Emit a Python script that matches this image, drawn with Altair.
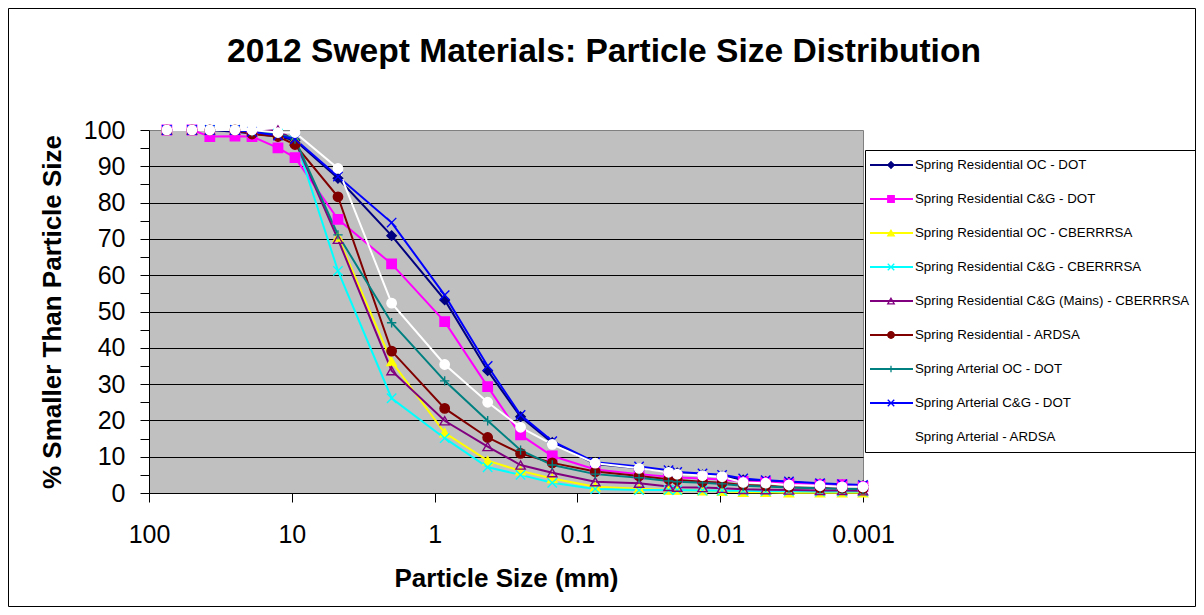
import altair as alt
import pandas as pd

# ---- data ----
particle_size_mm = [75, 50, 37.5, 25, 19, 12.5, 9.5, 4.75, 2.0, 0.85, 0.425, 0.25, 0.15,
                    0.075, 0.037, 0.023, 0.020, 0.0133, 0.0097, 0.0069, 0.0048, 0.0033,
                    0.0020, 0.0014, 0.001]

series_names = [
    "Spring Residential OC - DOT",
    "Spring Residential C&G - DOT",
    "Spring Residential OC - CBERRRSA",
    "Spring Residential C&G - CBERRRSA",
    "Spring Residential C&G (Mains) - CBERRRSA",
    "Spring Residential - ARDSA",
    "Spring Arterial OC - DOT",
    "Spring Arterial C&G - DOT",
    "Spring Arterial - ARDSA",
]

res_oc_dot = [100, 100, 100, 99.5, 99, 98.2, 97.2, 86.7, 70.9, 53.2, 33.7, 21.0, 13.9,
              8.0, 6.8, 6.0, 5.5, 5.0, 4.6, 3.6, 3.2, 3.0, 2.5, 2.2, 2.0]
res_cg_dot = [100, 100, 98.2, 98.3, 98.2, 95.1, 92.4, 75.4, 63.1, 47.2, 29.3, 16.0, 10.2,
              6.5, 5.2, 4.5, 4.3, 4.0, 3.7, 3.2, 3.0, 2.6, 2.4, 2.3, 1.8]
res_oc_cb = [100, 100, 100, 100, 99.5, 99, 97.5, 70.5, 36.2, 16.6, 8.9, 6.1, 4.0,
             1.7, 1.2, 0.8, 0.8, 0.6, 0.5, 0.2, 0.2, 0.1, 0.1, 0.1, 0.1]
res_cg_cb = [100, 100, 100, 100, 99.5, 99, 97.8, 61.2, 26.1, 15.1, 7.1, 5.0, 2.8,
             1.1, 0.8, 0.8, 0.8, 0.7, 0.6, 0.6, 0.5, 0.5, 0.4, 0.4, 0.4]
res_cg_mains_cb = [100, 100, 100, 100, 99.5, 100, 97, 69.9, 33.7, 19.9, 12.8, 7.7, 5.6,
                   3.1, 2.7, 1.8, 1.6, 1.5, 1.3, 1.0, 0.9, 0.8, 0.7, 0.7, 0.6]
res_ardsa = [100, 100, 100, 100, 98.9, 98.2, 96.0, 81.6, 39.1, 23.3, 15.3, 10.9, 8.3,
             5.9, 4.7, 3.8, 3.6, 3.1, 2.8, 2.2, 2.0, 1.6, 1.4, 1.3, 1.2]
art_oc_dot = [100, 100, 100, 100, 99.5, 99, 97.5, 71.1, 46.9, 30.9, 19.9, 11.8, 7.7,
              5.2, 4.2, 3.3, 3.1, 2.8, 2.5, 2.0, 1.8, 1.5, 1.3, 1.2, 1.1]
art_cg_dot = [100, 100, 100, 100, 99.5, 98.5, 97.5, 87.2, 74.5, 54.5, 35.0, 21.5, 14.3,
              8.5, 7.3, 6.3, 5.8, 5.4, 5.0, 4.0, 3.5, 3.2, 2.7, 2.4, 2.2]
art_ardsa = [100, 100, 100, 100, 100, 99.3, 99.3, 89.4, 52.3, 35.4, 25.0, 18.1, 13.4,
             8.2, 6.8, 5.7, 5.2, 4.8, 4.5, 2.9, 2.7, 2.2, 2.0, 1.7, 1.7]

series_values = [res_oc_dot, res_cg_dot, res_oc_cb, res_cg_cb, res_cg_mains_cb,
                 res_ardsa, art_oc_dot, art_cg_dot, art_ardsa]

x_tick_values = [100, 10, 1, 0.1, 0.01, 0.001]
y_tick_values = list(range(0, 101, 5))

# ---- styles ----
line_colors = ["#000080", "#FF00FF", "#FFFF00", "#00FFFF", "#800080",
               "#800000", "#008080", "#0000FF", "#FFFFFF"]
fill_colors = ["#000080", "#FF00FF", "#FFFF00", "transparent", "transparent",
               "#800000", "transparent", "transparent", "#FFFFFF"]
X_PATH = "M-1,-1L1,1M-1,1L1,-1"
PLUS_PATH = "M-1,0L1,0M0,-1L0,1"
shapes = ["diamond", "square", "triangle-up", X_PATH, "triangle-up",
          "circle", PLUS_PATH, X_PATH, "circle"]

# marker keys (separate field so that the marker legend is not merged with the line legend)
marker_keys = [n + " markers" for n in series_names]

rows = []
for name, key, vals in zip(series_names, marker_keys, series_values):
    for s, v in zip(particle_size_mm, vals):
        rows.append({"size": s, "pct": v, "series": name, "series_p": key})
df = pd.DataFrame(rows)

FONT = "Liberation Sans"

# layout (svg pixels)
PAD_L, PAD_T = 141, 122
PLOT_W, PLOT_H = 714, 363
TOTAL_W, TOTAL_H = 1188, 599

x_enc = alt.X(
    "size:Q",
    scale=alt.Scale(type="log", domain=[0.001, 100], reverse=True, nice=False),
    axis=alt.Axis(
        title="Particle Size (mm)", values=x_tick_values, format="~g",
        grid=False, tickSize=9, labelPadding=20, labelFontSize=25,
        labelFont=FONT, labelColor="black", labelFlush=False, labelOverlap=False,
        titleFont=FONT, titleFontSize=26, titleFontWeight="bold", titleColor="black",
        titlePadding=18, domainColor="black", tickColor="black",
    ),
)
y_enc = alt.Y(
    "pct:Q",
    scale=alt.Scale(domain=[0, 100], nice=False),
    axis=alt.Axis(
        title="% Smaller Than Particle Size", values=y_tick_values,
        labelExpr="datum.value % 10 === 0 ? datum.label : ''",
        gridOpacity={"condition": {"test": "datum.value % 10 === 0 && datum.value > 0 && datum.value < 100",
                                   "value": 1}, "value": 0},
        gridColor="black", gridWidth=1,
        tickSize=9, labelPadding=15, labelFontSize=25, labelFont=FONT,
        labelColor="black", labelOverlap=False, labelFlush=False,
        titleFont=FONT, titleFontSize=26, titleFontWeight="bold", titleColor="black",
        titlePadding=18, domainColor="black", tickColor="black",
    ),
)

LEG_X, LEG_Y = 716, 20
LEG_FONT = 13.3

line_legend = alt.Legend(
    orient="none", legendX=LEG_X, legendY=LEG_Y, title=None,
    symbolType="stroke", symbolSize=1936, symbolStrokeWidth=2, symbolOffset=-2,
    clipHeight=20, rowPadding=14, padding=5,
    labelFont=FONT, labelFontSize=LEG_FONT, labelColor="black", labelOffset=1,
    labelLimit=400, strokeColor="black",
)
point_legend = alt.Legend(
    orient="none", legendX=LEG_X, legendY=LEG_Y, title=None,
    symbolSize=42, symbolStrokeWidth=1.3, symbolOffset=14.35,
    clipHeight=20, rowPadding=14, padding=5,
    labelFont=FONT, labelFontSize=LEG_FONT, labelExpr="''", labelOffset=0, labelLimit=400,
)

frame = alt.Chart(alt.Data(values=[{}])).mark_rect(
    fill="transparent", stroke="black", strokeWidth=1
).encode(
    x=alt.value(-PAD_L + 0.5), x2=alt.value(TOTAL_W - PAD_L - 0.5),
    y=alt.value(-PAD_T + 0.5), y2=alt.value(TOTAL_H - PAD_T - 0.5),
)

lines = alt.Chart(df).mark_line(strokeWidth=2).encode(
    x=x_enc, y=y_enc,
    color=alt.Color("series:N", scale=alt.Scale(domain=series_names, range=line_colors),
                    legend=line_legend),
)

points = alt.Chart(df).mark_point(filled=True, size=88, strokeWidth=1.4, opacity=1).encode(
    x=x_enc, y=y_enc,
    fill=alt.Fill("series_p:N", scale=alt.Scale(domain=marker_keys, range=fill_colors),
                  legend=point_legend),
    stroke=alt.Stroke("series_p:N", scale=alt.Scale(domain=marker_keys, range=line_colors),
                      legend=point_legend),
    shape=alt.Shape("series_p:N", scale=alt.Scale(domain=marker_keys, range=shapes),
                    legend=point_legend),
)

chart = alt.layer(frame, lines, points).properties(
    width=PLOT_W, height=PLOT_H,
    autosize=alt.AutoSizeParams(type="none"),
    padding={"left": PAD_L, "top": PAD_T,
             "right": TOTAL_W - PAD_L - PLOT_W, "bottom": TOTAL_H - PAD_T - PLOT_H},
    background="white",
    title=alt.TitleParams(
        text="2012 Swept Materials: Particle Size Distribution",
        font=FONT, fontSize=33.6, fontWeight="bold", color="black",
        anchor="middle", baseline="alphabetic", offset=-88, dx=98,
    ),
).configure_view(fill="#C0C0C0", stroke="#808080")

chart.save("out.html", embed_options={"renderer": "svg", "actions": False})
